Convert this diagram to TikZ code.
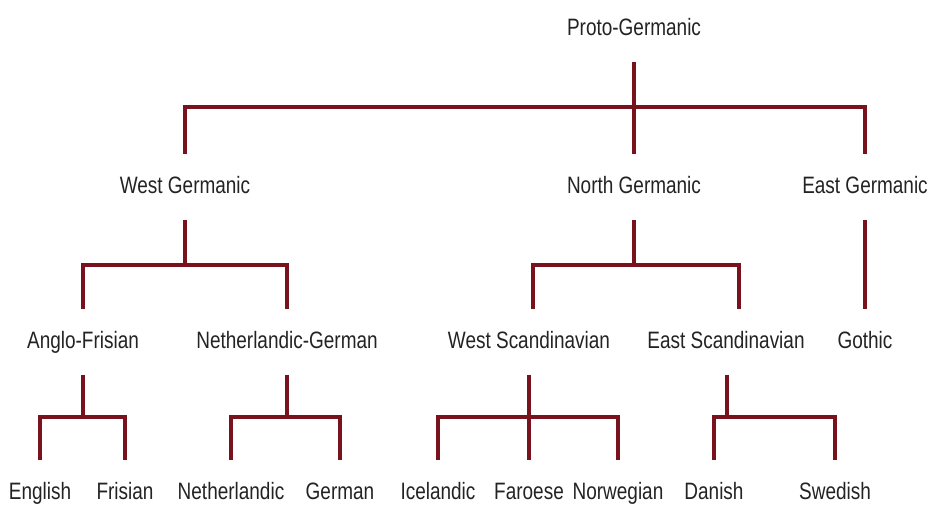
\documentclass[tikz,border=0pt]{standalone}
\usepackage{fontspec}
\setmainfont{Liberation Sans}[FakeStretch=0.80]
\usetikzlibrary{calc}
\definecolor{maroonline}{RGB}{120,18,28}
\definecolor{langtext}{RGB}{35,35,35}
\tikzset{
  lang/.style={text=langtext,font=\fontsize{13.5}{15}\selectfont,inner sep=0pt,
    minimum height=1.3cm,text height=9.5pt,text depth=2.5pt},
  link/.style={draw=maroonline,line width=1.9pt},
}

\begin{document}
\begin{tikzpicture}[x=0.02cm,y=-0.02cm]
  \useasboundingbox (0,0) rectangle (930,505);
  % Root
  \node[lang] (proto) at (634,29) {Proto-Germanic};
  % Branches
  \node[lang] (wgmc) at (185,187) {West Germanic};
  \node[lang] (ngmc) at (634,187) {North Germanic};
  \node[lang] (egmc) at (865,187) {East Germanic};
  % Subgroups
  \node[lang] (angfri) at (83,342) {Anglo-Frisian};
  \node[lang] (nlger) at (287,342) {Netherlandic-German};
  \node[lang] (wscand) at (529,342) {West Scandinavian};
  \node[lang] (escand) at (726,342) {East Scandinavian};
  \node[lang] (gothic) at (865,342) {Gothic};
  % Languages
  \node[lang] (english) at (40,493) {English};
  \node[lang] (frisian) at (125,493) {Frisian};
  \node[lang] (dutch) at (231,493) {Netherlandic};
  \node[lang] (german) at (340,493) {German};
  \node[lang] (icel) at (438,493) {Icelandic};
  \node[lang] (faroe) at (529,493) {Faroese};
  \node[lang] (norw) at (618,493) {Norwegian};
  \node[lang] (danish) at (714,493) {Danish};
  \node[lang] (swedish) at (835,493) {Swedish};

  % Proto-Germanic split
  \coordinate (b0) at (634,107);
  \draw[link] (proto.south) -- (ngmc.north);
  \draw[link] (wgmc.north) |- (b0) -| (egmc.north);
  % West Germanic
  \coordinate (b1) at (185,265);
  \draw[link] (wgmc.south) -- (b1);
  \draw[link] (angfri.north) |- (b1) -| (nlger.north);
  % North Germanic
  \coordinate (b2) at (634,265);
  \draw[link] (ngmc.south) -- (b2);
  \draw[link] ($(wscand.north)+(4,0)$) |- (b2) -| ($(escand.north)+(13,0)$);
  % East Germanic
  \draw[link] (egmc.south) -- (gothic.north);
  % Anglo-Frisian
  \coordinate (b3) at (83,417);
  \draw[link] (angfri.south) -- (b3);
  \draw[link] (english.north) |- (b3) -| (frisian.north);
  % Netherlandic-German
  \coordinate (b4) at (287,417);
  \draw[link] (nlger.south) -- (b4);
  \draw[link] (dutch.north) |- (b4) -| (german.north);
  % West Scandinavian
  \coordinate (b5) at (529,417);
  \draw[link] (wscand.south) -- (faroe.north);
  \draw[link] (icel.north) |- (b5) -| (norw.north);
  % East Scandinavian
  \coordinate (b6) at (727,417);
  \draw[link] ($(escand.south)+(1,0)$) -- (b6);
  \draw[link] (danish.north) |- (b6) -| (swedish.north);
\end{tikzpicture}
\end{document}
